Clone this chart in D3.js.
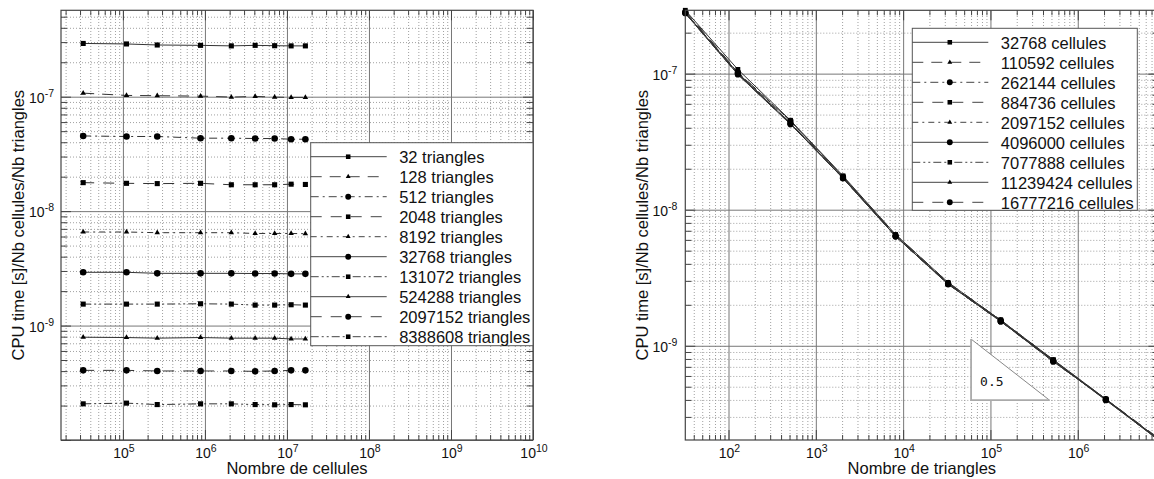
<!DOCTYPE html>
<html><head><meta charset="utf-8">
<script src="https://cdn.jsdelivr.net/npm/d3@7"></script>
<style>
body{margin:0;background:#fff;}
svg{display:block;}
text{font-family:"Liberation Sans",Arial,Helvetica,sans-serif;fill:#111;}
</style></head><body>
<svg id="c" width="1154" height="479"></svg>
<script>
// ---------------- data ----------------
const cells = [32768, 110592, 262144, 884736, 2097152, 4096000, 7077888, 11239424, 16777216];
const triangles = [32, 128, 512, 2048, 8192, 32768, 131072, 524288, 2097152, 8388608];
// CPU time [s] / Nb cellules / Nb triangles, one array per triangle count (values along cells)
const t32      = [2.92e-7, 2.89e-7, 2.83e-7, 2.81e-7, 2.78e-7, 2.81e-7, 2.79e-7, 2.78e-7, 2.78e-7];
const t128     = [1.074e-7, 1.026e-7, 1.02e-7, 1.012e-7, 0.992e-7, 1.006e-7, 0.992e-7, 0.986e-7, 0.986e-7];
const t512     = [4.54e-8, 4.49e-8, 4.49e-8, 4.34e-8, 4.34e-8, 4.31e-8, 4.31e-8, 4.25e-8, 4.25e-8];
const t2048    = [1.774e-8, 1.75e-8, 1.74e-8, 1.75e-8, 1.70e-8, 1.70e-8, 1.70e-8, 1.72e-8, 1.71e-8];
const t8192    = [6.57e-9, 6.57e-9, 6.48e-9, 6.48e-9, 6.48e-9, 6.38e-9, 6.38e-9, 6.38e-9, 6.35e-9];
const t32768   = [2.92e-9, 2.92e-9, 2.86e-9, 2.86e-9, 2.86e-9, 2.85e-9, 2.85e-9, 2.83e-9, 2.83e-9];
const t131072  = [1.54e-9, 1.54e-9, 1.54e-9, 1.55e-9, 1.54e-9, 1.51e-9, 1.51e-9, 1.52e-9, 1.51e-9];
const t524288  = [7.91e-10, 7.86e-10, 7.76e-10, 7.86e-10, 7.76e-10, 7.76e-10, 7.76e-10, 7.64e-10, 7.64e-10];
const t2097152 = [4.06e-10, 4.06e-10, 4.01e-10, 4.01e-10, 4.01e-10, 3.98e-10, 4.01e-10, 4.06e-10, 4.06e-10];
const t8388608 = [2.07e-10, 2.10e-10, 2.04e-10, 2.07e-10, 2.07e-10, 2.04e-10, 2.03e-10, 2.04e-10, 2.03e-10];
const timesByTriangles = [t32, t128, t512, t2048, t8192, t32768, t131072, t524288, t2097152, t8388608];

const leftLegend = ["32 triangles", "128 triangles", "512 triangles", "2048 triangles", "8192 triangles",
  "32768 triangles", "131072 triangles", "524288 triangles", "2097152 triangles", "8388608 triangles"];
const rightLegend = ["32768 cellules", "110592 cellules", "262144 cellules", "884736 cellules", "2097152 cellules",
  "4096000 cellules", "7077888 cellules", "11239424 cellules", "16777216 cellules"];
const leftXDomain = [Math.pow(10, 4.245), 1e10];
const leftYDomain = [1e-10, Math.pow(10, -6.245)];
const slopeX = [6e4, 4.75e5];
const slopeTop = 1.12e-9;
const slopeValue = 0.5;
const yTitle = "CPU time [s]/Nb cellules/Nb triangles";

// ---------------- styles ----------------
const dashes = ["", "11,8", "8,4,2,4", "11,9", "6,4,2,4", "", "8,3,2,3,2,3", "", "11,9", "8,3,2,3,2,3"];
const markers = ["square", "triangle", "circle", "square", "triangle", "circle", "square", "triangle", "circle", "square"];
const symMap = {square: d3.symbolSquare, triangle: d3.symbolTriangle, circle: d3.symbolCircle};
const symSize = {square: 26, triangle: 13, circle: 34};

const svg = d3.select("#c");

function isDecade(v) { const l = Math.log10(v); return Math.abs(l - Math.round(l)) < 1e-9; }

function supLabel(sel, v, anchor) {
  const e = Math.round(Math.log10(v));
  const t = sel.append("text").attr("text-anchor", anchor).style("font-size", "14px");
  t.append("tspan").text("10");
  t.append("tspan").attr("dy", -6).style("font-size", "10.5px").text(String(e));
  return t;
}

function panel(o) {
  const x = d3.scaleLog().domain(o.xDomain).range([o.x0, o.x1]);
  const y = d3.scaleLog().domain(o.yDomain).range([o.y1, o.y0]);
  const w = o.x1 - o.x0, h = o.y1 - o.y0;
  const g = svg.append("g");
  const xt = x.ticks(), yt = y.ticks();
  const xMaj = xt.filter(isDecade), xMin = xt.filter(v => !isDecade(v));
  const yMaj = yt.filter(isDecade), yMin = yt.filter(v => !isDecade(v));

  const styleGrid = (sel, major) => {
    sel.select(".domain").remove();
    sel.selectAll("line").attr("stroke", major ? "#777" : "#a0a0a0")
      .attr("stroke-width", 1).attr("stroke-dasharray", major ? null : "1,2");
  };
  // grid
  g.append("g").attr("transform", `translate(0,${o.y1})`)
    .call(d3.axisBottom(x).tickValues(xMin).tickSize(-h).tickFormat("")).call(s => styleGrid(s, false));
  g.append("g").attr("transform", `translate(${o.x0},0)`)
    .call(d3.axisLeft(y).tickValues(yMin).tickSize(-w).tickFormat("")).call(s => styleGrid(s, false));
  g.append("g").attr("transform", `translate(0,${o.y1})`)
    .call(d3.axisBottom(x).tickValues(xMaj).tickSize(-h).tickFormat("")).call(s => styleGrid(s, true));
  g.append("g").attr("transform", `translate(${o.x0},0)`)
    .call(d3.axisLeft(y).tickValues(yMaj).tickSize(-w).tickFormat("")).call(s => styleGrid(s, true));

  // data
  const line = d3.line().x(d => x(d[0])).y(d => y(d[1]));
  const dg = g.append("g");
  o.series.forEach((s, i) => {
    dg.append("path").datum(s.pts).attr("d", line).attr("fill", "none")
      .attr("stroke", "#333").attr("stroke-width", 1).attr("stroke-dasharray", dashes[i] || null);
  });
  const order = o.reverseMarkers ? o.series.map((s, i) => i).reverse() : o.series.map((s, i) => i);
  order.forEach(i => {
    const s = o.series[i];
    dg.selectAll(null).data(s.pts).enter().append("path")
      .attr("d", d3.symbol().type(symMap[markers[i]]).size(symSize[markers[i]] * (o.markerScale || 1)))
      .attr("transform", d => `translate(${x(d[0])},${y(d[1])})`).attr("fill", "#000");
  });

  // tick marks on four sides (inward)
  const tk = (axis, tr, vals, size) => {
    const a = g.append("g").attr("transform", tr).call(axis.tickValues(vals).tickSize(-size).tickFormat(""));
    a.select(".domain").remove();
    a.selectAll("line").attr("stroke", "#444");
  };
  tk(d3.axisBottom(x), `translate(0,${o.y1})`, xMin, 5);
  tk(d3.axisBottom(x), `translate(0,${o.y1})`, xMaj, 10);
  tk(d3.axisTop(x), `translate(0,${o.y0})`, xMin, 5);
  tk(d3.axisTop(x), `translate(0,${o.y0})`, xMaj, 10);
  tk(d3.axisLeft(y), `translate(${o.x0},0)`, yMin, 6);
  tk(d3.axisLeft(y), `translate(${o.x0},0)`, yMaj, 10);
  tk(d3.axisRight(y), `translate(${o.x1},0)`, yMin, 6);
  tk(d3.axisRight(y), `translate(${o.x1},0)`, yMaj, 10);

  // frame
  g.append("rect").attr("x", o.x0).attr("y", o.y0).attr("width", w).attr("height", h)
    .attr("fill", "none").attr("stroke", "#444").attr("stroke-width", 1.2);

  // tick labels
  xMaj.filter(v => x(v) > o.x0 + 20).forEach(v => {
    supLabel(g, v, "middle").attr("x", x(v) + 1).attr("y", o.y1 + 17.5);
  });
  yMaj.filter(v => y(v) < o.y1 - 10).forEach(v => {
    supLabel(g, v, "end").attr("x", o.x0 - o.yLabelGap).attr("y", y(v) + 6);
  });

  // titles
  g.append("text").attr("x", (o.x0 + o.x1) / 2).attr("y", 474).attr("text-anchor", "middle")
    .style("font-size", "16.5px").text(o.xTitle);
  g.append("text").attr("transform", `translate(${o.yTitleX},${(o.y0 + o.y1) / 2}) rotate(-90)`)
    .attr("text-anchor", "middle").style("font-size", "16.5px").text(yTitle);

  // slope triangle
  if (o.slope) {
    const xa = x(slopeX[0]), xb = x(slopeX[1]);
    const ya = y(slopeTop), yb = y(slopeTop * Math.pow(slopeX[0] / slopeX[1], slopeValue));
    g.append("path").attr("d", `M${xa},${ya}L${xa},${yb}L${xb},${yb}Z`).attr("fill", "#fff").attr("stroke", "none");
    g.append("path").attr("d", `M${xa},${ya}L${xb},${yb}`).attr("stroke", "#888").attr("stroke-width", 1).attr("fill", "none");
    g.append("path").attr("d", `M${xa},${ya}L${xa},${yb}L${xb},${yb}`).attr("stroke", "#aaa").attr("stroke-width", 1.8).attr("fill", "none");
    g.append("text").attr("x", xa + 9).attr("y", yb - 14)
      .style("font-family", "'DejaVu Sans Mono','Liberation Mono',monospace").style("font-size", "13px")
      .text(String(slopeValue));
  }

  // legend
  const L = o.legend;
  const lg = g.append("g");
  lg.append("rect").attr("x", L.x).attr("y", L.y).attr("width", L.w).attr("height", L.h)
    .attr("fill", "#fff").attr("stroke", "#555").attr("stroke-width", 1);
  L.labels.forEach((lab, i) => {
    const cy = L.y + 14 + 20 * i;
    lg.append("line").attr("x1", L.x).attr("x2", L.x + 76).attr("y1", cy).attr("y2", cy)
      .attr("stroke", "#444").attr("stroke-width", 1).attr("stroke-dasharray", dashes[i] || null);
    lg.append("path").attr("d", d3.symbol().type(symMap[markers[i]]).size(symSize[markers[i]] * 0.8))
      .attr("transform", `translate(${L.x + 37.5},${cy})`).attr("fill", "#000");
    lg.append("text").attr("x", L.x + 88.5).attr("y", cy + 6.5).style("font-size", "16.5px").text(lab);
  });
}

// left panel: x = cells, one series per triangle count
const leftSeries = triangles.map((t, i) => ({pts: cells.map((c, j) => [c, timesByTriangles[i][j]])}));
panel({
  x0: 61, x1: 533, y0: 10.3, y1: 440,
  xDomain: leftXDomain, yDomain: leftYDomain,
  series: leftSeries, yLabelGap: 7, yTitleX: 24,
  xTitle: "Nombre de cellules",
  legend: {x: 310.7, y: 142.7, w: 222.3, h: 203, labels: leftLegend}
});

// right panel: x = triangles, one series per cell count
const rightSeries = cells.map((c, j) => ({pts: triangles.map((t, i) => [t, timesByTriangles[i][j]])}));
const allT = timesByTriangles.flat();
panel({
  x0: 685.3, x1: 1158.4, y0: 10.3, y1: 440,
  xDomain: d3.extent(triangles), yDomain: d3.extent(allT),
  series: rightSeries, yLabelGap: 8, yTitleX: 648, reverseMarkers: true, markerScale: 0.9,
  xTitle: "Nombre de triangles", slope: true,
  legend: {x: 912.3, y: 28.3, w: 225, h: 182, labels: rightLegend}
});
</script>
</body></html>
